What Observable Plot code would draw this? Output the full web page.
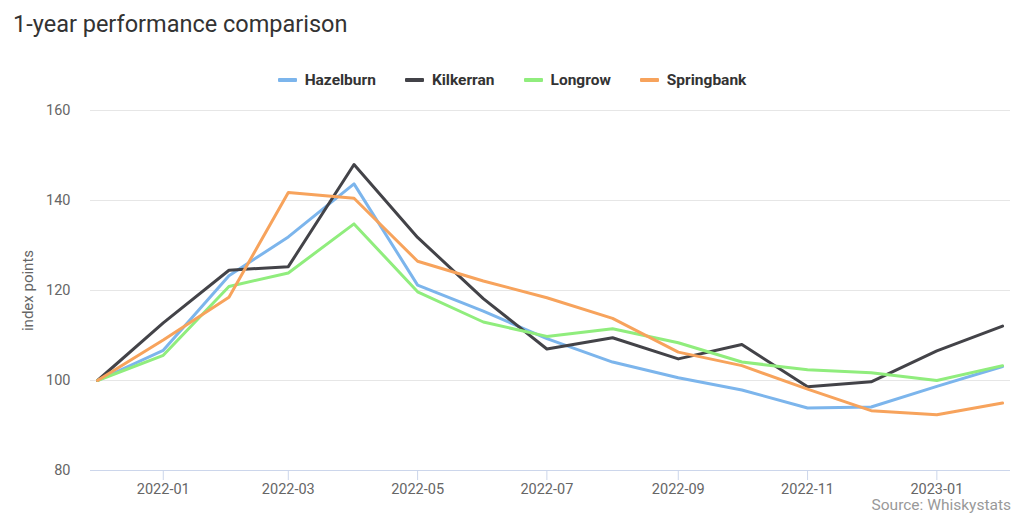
<!DOCTYPE html>
<html>
<head>
<meta charset="utf-8">
<script src="https://cdn.jsdelivr.net/npm/d3@7"></script>
<script src="https://cdn.jsdelivr.net/npm/@observablehq/plot@0.6"></script>
<style>
  html, body { margin: 0; padding: 0; background: #fff; }
  #wrap { position: relative; width: 1024px; height: 516px; font-family: Roboto, "Noto Sans", sans-serif; overflow: hidden; }
  #title { position: absolute; left: 13px; top: 12px; font-size: 23.5px; color: #333; line-height: 24px; white-space: nowrap; }
  #legend { position: absolute; left: 0; width: 1024px; top: 71px; display: flex; justify-content: center; gap: 29px; font-size: 15.5px; font-weight: 700; color: #333; line-height: 18px; }
  .item { display: flex; align-items: center; }
  .sym { width: 19px; height: 4px; border-radius: 1px; margin-right: 8px; }
  #chart { position: absolute; left: 0; top: 100px; }
  #source { position: absolute; right: 13px; top: 496px; font-size: 15.5px; color: #999; line-height: 18px; white-space: nowrap; }
</style>
</head>
<body>
<div id="wrap">
  <div id="title">1-year performance comparison</div>
  <div id="legend"></div>
  <div id="chart"></div>
  <div id="source">Source: Whiskystats</div>
</div>
<script>
const dates = ["2021-12-01","2022-01-01","2022-02-01","2022-03-01","2022-04-01","2022-05-01","2022-06-01","2022-07-01","2022-08-01","2022-09-01","2022-10-01","2022-11-01","2022-12-01","2023-01-01","2023-02-01"];
const seriesNames = ["Hazelburn", "Kilkerran", "Longrow", "Springbank"];
const seriesColors = ["#7cb5ec", "#434348", "#90ed7d", "#f7a35c"];
const hazelburn  = [100, 106.7, 123.3, 131.9, 143.7, 121.2, 115.4, 109.3, 104.1, 100.6, 97.9, 93.9, 94.1, 98.7, 103.1];
const kilkerran  = [100, 112.8, 124.5, 125.3, 148.0, 131.8, 118.2, 107.0, 109.5, 104.8, 108.0, 98.6, 99.7, 106.6, 112.1];
const longrow    = [100, 105.6, 120.9, 123.9, 134.8, 119.7, 113.0, 109.8, 111.5, 108.4, 104.1, 102.4, 101.7, 100.0, 103.3];
const springbank = [100, 109.0, 118.5, 141.8, 140.5, 126.5, 122.1, 118.4, 113.8, 106.3, 103.3, 98.1, 93.3, 92.4, 95.0];
const yTicks = [80, 100, 120, 140, 160];
const xTickLabels = ["2022-01","2022-03","2022-05","2022-07","2022-09","2022-11","2023-01"];

const seriesValues = [hazelburn, kilkerran, longrow, springbank];
const data = [];
seriesNames.forEach((name, i) => {
  seriesValues[i].forEach((v, j) => data.push({series: name, date: new Date(dates[j] + "T00:00:00Z"), value: v}));
});
const xTicks = xTickLabels.map(s => new Date(s + "-01T00:00:00Z"));

// legend
const legend = document.getElementById("legend");
seriesNames.forEach((name, i) => {
  const it = document.createElement("div");
  it.className = "item";
  const s = document.createElement("div");
  s.className = "sym";
  s.style.background = seriesColors[i];
  const t = document.createElement("span");
  t.textContent = name;
  it.appendChild(s); it.appendChild(t);
  legend.appendChild(it);
});

const chart = Plot.plot({
  width: 1024,
  height: 416,
  marginTop: 10,
  marginBottom: 46,
  marginLeft: 90,
  marginRight: 14,
  style: {fontFamily: "Roboto, 'Noto Sans', sans-serif", fontSize: "14.5px", background: "#fff"},
  x: {type: "utc", domain: [new Date(Date.UTC(2021, 10, 27, 16)), new Date(Date.UTC(2023, 1, 4, 18))]},
  y: {domain: [80, 160]},
  color: {domain: seriesNames, range: seriesColors},
  marks: [
    Plot.gridY(yTicks.slice(1), {stroke: "#e6e6e6", strokeOpacity: 1, strokeWidth: 1}),
    Plot.ruleY([80], {stroke: "#ccd6eb", strokeWidth: 1}),
    Plot.axisX(xTicks, {tickSize: 10, tickPadding: 3, stroke: "#ccd6eb", strokeOpacity: 1, fill: "#666", tickFormat: d3.utcFormat("%Y-%m"), label: null, fontSize: 14.5}),
    Plot.axisY(yTicks, {tickSize: 0, tickPadding: 20, fill: "#666", label: null, fontSize: 14.5}),
    Plot.text(["index points"], {frameAnchor: "left", textAnchor: "middle", text: d => d, rotate: -90, dx: -62, fill: "#666", fontSize: 15}),
    Plot.line(data, {x: "date", y: "value", z: "series", stroke: "series", strokeWidth: 3, strokeLinejoin: "round", strokeLinecap: "round"})
  ]
});
document.getElementById("chart").appendChild(chart);
</script>
</body>
</html>
